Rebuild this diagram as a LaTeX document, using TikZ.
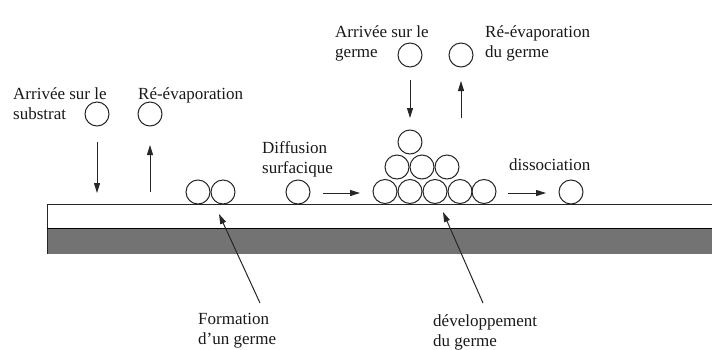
\documentclass[tikz,border=0pt]{standalone}
\usepackage{fontspec}
\setmainfont{Liberation Serif}
\usetikzlibrary{arrows.meta}
\begin{document}
\begin{tikzpicture}[x=1pt,y=-1pt,
  font=\fontsize{17}{20}\selectfont,
  atom/.style={circle,draw=black!85,line width=1pt,minimum size=24pt,inner sep=0pt},
  lbl/.style={anchor=north west,inner sep=0pt,align=left,text=black!90},
  arr/.style={line width=1pt,draw=black!85,-{Triangle[length=10pt,width=6pt]}},
  ptr/.style={line width=1pt,draw=black!85,-{Triangle[length=10pt,width=6pt]}}]
\useasboundingbox (0,0) rectangle (712,349);
% substrate
\fill[black!55] (47,228) rectangle (712,254);
\draw[line width=1pt,black!85] (712,204) -- (47,204) -- (47,254);
\draw[line width=0.6pt] (47,228) -- (712,228);
% labels
\node[lbl] (tArrSub) at (13,87.4) {Arrivée sur le\\substrat};
\node[lbl] (tReSub) at (138,87.4) {Ré-évaporation};
\node[lbl] (tArrG) at (335,25.4) {Arrivée sur le\\germe};
\node[lbl] (tReG) at (485,25.4) {Ré-évaporation\\du germe};
\node[lbl] (tDiff) at (262,141.4) {Diffusion\\surfacique};
\node[lbl] (tDiss) at (509,158.4) {dissociation};
\node[lbl] (tForm) at (198,313.4) {Formation\\d'un germe};
\node[lbl] (tDev) at (433,314.4) {développement\\du germe};
% atoms
\node[atom] (sA) at (97,114) {};
\node[atom] (sR) at (150,114) {};
\node[atom] (p1) at (198,192) {};
\node[atom] (p2) at (223,192) {};
\node[atom] (dA) at (298,192) {};
\node[atom] (b1) at (385,191.5) {};
\node[atom] (b2) at (410,191.5) {};
\node[atom] (b3) at (435,191.5) {};
\node[atom] (b4) at (460,191.5) {};
\node[atom] (b5) at (484,191.5) {};
\node[atom] (m1) at (397,167) {};
\node[atom] (m2) at (422,167) {};
\node[atom] (m3) at (447,167) {};
\node[atom] (tp) at (410,142) {};
\node[atom] (gA) at (410,55) {};
\node[atom] (gR) at (461,55) {};
\node[atom] (xA) at (571,192) {};
% arrow end points
\coordinate (a1s) at (97,142);  \coordinate (a1e) at (97,193);
\coordinate (a2s) at (150,192); \coordinate (a2e) at (150,145);
\coordinate (a3s) at (410,80);  \coordinate (a3e) at (410,118);
\coordinate (a4s) at (461,118); \coordinate (a4e) at (461,81);
\coordinate (a5s) at (323,193); \coordinate (a5e) at (360,193);
\coordinate (a6s) at (508,193); \coordinate (a6e) at (546,193);
\coordinate (f1) at (260,303);  \coordinate (f2) at (219,214);
\coordinate (d1) at (483,303);  \coordinate (d2) at (443,212);
\draw[arr] (a1s) -- (a1e);
\draw[arr] (a2s) -- (a2e);
\draw[arr] (a3s) -- (a3e);
\draw[arr] (a4s) -- (a4e);
\draw[arr] (a5s) -- (a5e);
\draw[arr] (a6s) -- (a6e);
\draw[ptr] (f1) -- (f2);
\draw[ptr] (d1) -- (d2);
\end{tikzpicture}
\end{document}
